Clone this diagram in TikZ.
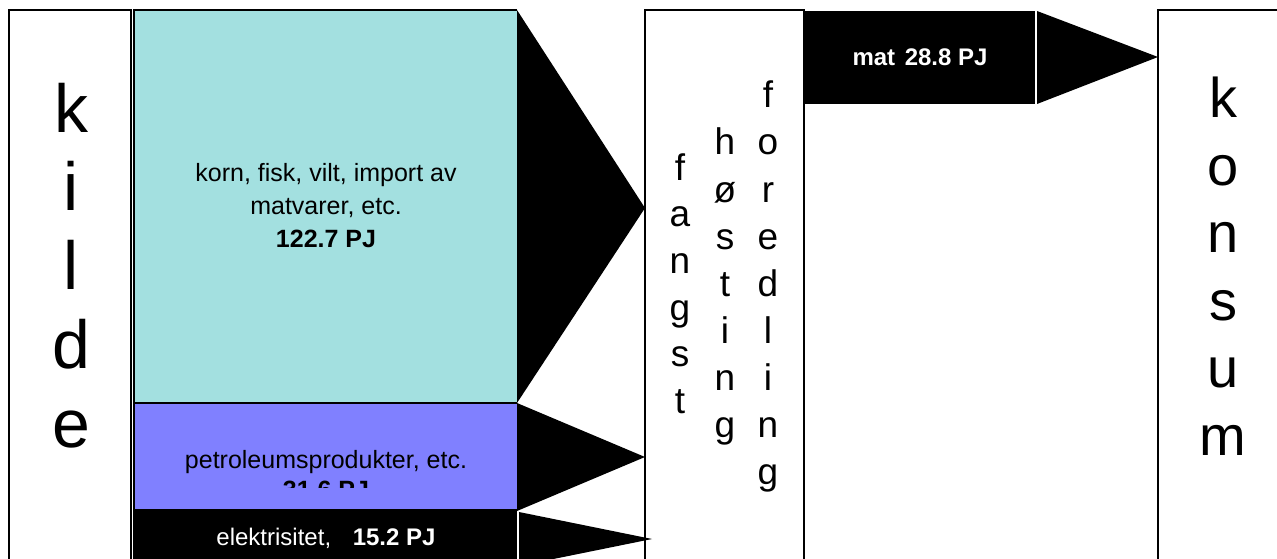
\documentclass[tikz,border=0pt]{standalone}
\usepackage{fontspec}
\setmainfont{Liberation Sans}
\definecolor{cyanbox}{RGB}{163,224,224}
\definecolor{purplebox}{RGB}{128,128,255}
\begin{document}
\begin{tikzpicture}[x=1pt,y=-1pt,
  frame/.style={draw=black,line width=1.6pt},
  flow/.style={fill=black},
  bigletter/.style={font=\fontsize{68}{80}\selectfont,anchor=base,inner sep=0pt},
  endletter/.style={font=\fontsize{56}{66}\selectfont,anchor=base,inner sep=0pt},
  midletter/.style={font=\fontsize{37}{45}\selectfont,anchor=base,inner sep=0pt},
  label/.style={font=\fontsize{25}{30}\selectfont,anchor=base,inner sep=0pt},
  whitelabel/.style={font=\fontsize{24}{30}\selectfont,anchor=base,inner sep=0pt,text=white}]
\useasboundingbox (0,0) rectangle (1277,559);
\fill[white] (0,0) rectangle (1277,559);
\clip (0,0) rectangle (1277,559);

% coordinates
\coordinate (foodtop) at (517,10);
\coordinate (foodbot) at (517,403);
\coordinate (foodtip) at (645,208);
\coordinate (petrotop) at (517,403);
\coordinate (petrobot) at (517,511);
\coordinate (petrotip) at (645,457);
\coordinate (eltop) at (519,512);
\coordinate (elbot) at (519,566);
\coordinate (eltip) at (652,539);
\coordinate (mattop) at (1037,11);
\coordinate (matbot) at (1037,104);
\coordinate (mattip) at (1158,57);

% source boxes
\fill[cyanbox] (134,10) rectangle (517,403);
\fill[purplebox] (134,403) rectangle (517,510);
\fill[black] (134,510) rectangle (517,570);
\draw[frame] (134,570) |- (517,10);
\draw[frame] (134,403) -- (517,403);
\draw[frame] (134,510) -- (517,510);

% kilde box
\draw[frame] (9,570) |- (131,10) -- (131,570);

% fangst box
\draw[frame] (645,570) |- (804,10) -- (804,570);

% konsum box
\draw[frame] (1158,570) |- (1290,10);

% mat box
\fill[black] (805,11) rectangle (1035,104);

% flow arrows
\fill[flow] (foodtop) -- (foodtip) -- (foodbot) -- cycle;
\fill[flow] (petrotop) -- (petrotip) -- (petrobot) -- cycle;
\fill[flow] (eltop) -- (eltip) -- (elbot) -- cycle;
\fill[flow] (mattop) -- (mattip) -- (matbot) -- cycle;

% letters
\foreach \c [count=\i] in {k,i,l,d,e}
  \node[bigletter] (kilde\i) at (71,{132+78.8*(\i-1)}) {\c};
\foreach \c [count=\i] in {k,o,n,s,u,m}
  \node[endletter] (konsum\i) at (1223,{118+67.4*(\i-1)}) {\c};
\foreach \c [count=\i] in {f,a,n,g,s,t}
  \node[midletter] (fangst\i) at (680,{180+46.7*(\i-1)}) {\c};
\foreach \c [count=\i] in {h,ø,s,t,i,n,g}
  \node[midletter] (hosting\i) at (725,{155+47*(\i-1)}) {\c};
\foreach \c [count=\i] in {f,o,r,e,d,l,i,n,g}
  \node[midletter] (foredling\i) at (768,{108+47*(\i-1)}) {\c};

% labels
\node[label] (food1) at (326,182) {korn, fisk, vilt, import av};
\node[label] (food2) at (326,214) {matvarer, etc.};
\node[label] (food3) at (326,247) {\textbf{122.7 PJ}};
\node[label] (petro1) at (326,468) {petroleumsprodukter, etc.};
\begin{scope}
  \clip (134,403) rectangle (517,487);
  \node[label] (petro2) at (326,498) {\textbf{31.6 PJ}};
\end{scope}
\node[whitelabel] (el) at (326,545) {elektrisitet,\hspace{0.9em}\textbf{15.2 PJ}};
\node[whitelabel] (mat) at (920,66) {\textbf{mat\hspace{0.4em}28.8 PJ}};
\end{tikzpicture}
\end{document}
